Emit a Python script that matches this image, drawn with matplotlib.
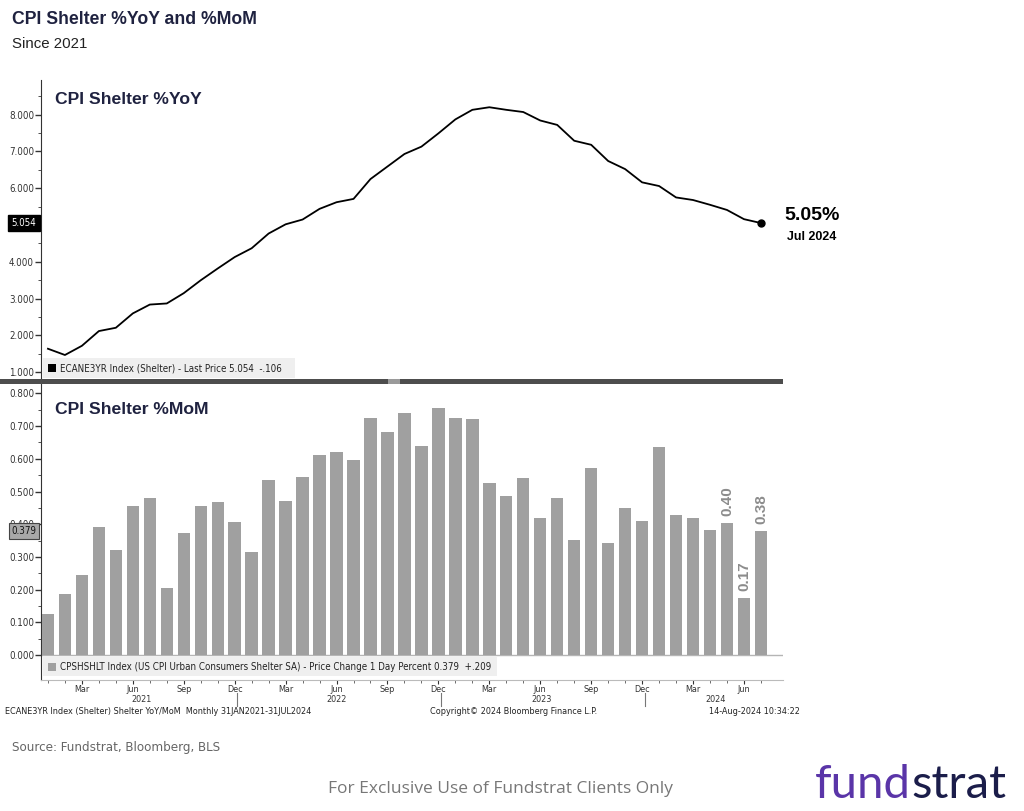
import matplotlib
matplotlib.use('Agg')
import matplotlib.pyplot as plt
import matplotlib.transforms as mtransforms
from matplotlib import font_manager as fm
from matplotlib.patches import Rectangle
import numpy as np

# ---------------- data ----------------
years = ['2021', '2022', '2023', '2024']
month_abbr = ['Jan', 'Feb', 'Mar', 'Apr', 'May', 'Jun',
              'Jul', 'Aug', 'Sep', 'Oct', 'Nov', 'Dec']
n_months_last_year = 7

# CPI Shelter %YoY (Jan 2021 - Jul 2024)
yoy = [1.64, 1.47, 1.72, 2.12, 2.21, 2.60, 2.84, 2.87, 3.15, 3.50, 3.82, 4.13,
       4.37, 4.77, 5.02, 5.15, 5.44, 5.62, 5.71, 6.25, 6.59, 6.93, 7.13, 7.49,
       7.87, 8.13, 8.20, 8.13, 8.07, 7.84, 7.72, 7.29, 7.18, 6.74, 6.52, 6.16,
       6.06, 5.75, 5.68, 5.55, 5.41, 5.16, 5.054]

# CPI Shelter %MoM (Jan 2021 - Jul 2024)
mom = [0.124, 0.186, 0.245, 0.391, 0.321, 0.457, 0.481, 0.206, 0.373, 0.457, 0.469, 0.407,
       0.315, 0.535, 0.472, 0.544, 0.612, 0.621, 0.596, 0.725, 0.682, 0.740, 0.638, 0.756,
       0.726, 0.722, 0.527, 0.485, 0.542, 0.418, 0.481, 0.352, 0.573, 0.341, 0.449, 0.409,
       0.636, 0.428, 0.420, 0.381, 0.403, 0.173, 0.379]

labeled_bars = [40, 41, 42]   # May, Jun, Jul 2024

yoy_yticks = [1, 2, 3, 4, 5, 6, 7, 8]
mom_yticks = [0.0, 0.1, 0.2, 0.3, 0.4, 0.5, 0.6, 0.7, 0.8]

# ---------------- fonts ----------------
ttf = fm.fontManager.ttflist
names = {f.name for f in ttf}
if 'Liberation Sans Narrow' in names:
    NARROW, STRETCH = 'Liberation Sans Narrow', 'normal'
elif any(f.name == 'DejaVu Sans' and str(f.stretch) in ('condensed', 'semi-condensed', '75', '87')
         for f in ttf):
    NARROW, STRETCH = 'DejaVu Sans', 'condensed'
else:
    NARROW, STRETCH = 'Liberation Sans', 'normal'
BBG = [NARROW, 'DejaVu Sans']
SANS = ['Liberation Sans', 'DejaVu Sans']
plt.rcParams['font.family'] = SANS

W, H = 1024, 811
fig = plt.figure(figsize=(W / 100, H / 100), dpi=100)
fig.patch.set_facecolor('white')


def rect(x0, y0, x1, y1):
    return [x0 / W, 1 - y1 / H, (x1 - x0) / W, (y1 - y0) / H]


def fx(x):
    return x / W


def fy(y):
    return 1 - y / H


NAVY = '#1f2240'
BAR = '#a0a0a0'
TXT = '#333333'

# month positions
months = []
for yi, yr in enumerate(years):
    count = 12 if yi < len(years) - 1 else n_months_last_year
    for m in range(count):
        months.append((yr, month_abbr[m]))
x = np.arange(len(months))

# ---------------- top panel ----------------
ax1 = fig.add_axes(rect(41, 80, 783, 379))
ax1.plot(x, yoy, color='black', lw=1.3, zorder=3)
ax1.plot(x[-1], yoy[-1], 'o', color='black', ms=5, zorder=4)
ax1.set_xlim(-0.41, 43.3)
ax1.set_ylim(0.818, 8.94)
ax1.set_yticks(yoy_yticks)
# the 5.000 label sits under the last-price tag, as in the original
ax1.set_yticklabels(['' if v == 5 else f'{v:.3f}' for v in yoy_yticks])
ax1.set_yticks(np.arange(1.5, 8.6, 1.0), minor=True)
for s in ['top', 'right', 'bottom']:
    ax1.spines[s].set_visible(False)
ax1.spines['left'].set_color(TXT)
ax1.tick_params(axis='y', which='major', direction='out', length=4, width=1,
                labelsize=7, colors=TXT, pad=1)
ax1.tick_params(axis='y', which='minor', direction='out', length=2, colors=TXT)
ax1.tick_params(axis='x', which='both', bottom=False, labelbottom=False)
for lab in ax1.get_yticklabels():
    lab.set_family(BBG)
    lab.set_stretch(STRETCH)

blend1 = mtransforms.blended_transform_factory(ax1.transAxes, ax1.transData)
ax1.text(-0.006, yoy[-1], f'{yoy[-1]:.3f}', transform=blend1, ha='right', va='center',
         fontsize=7, color='white', family=BBG, stretch=STRETCH,
         bbox=dict(boxstyle='square,pad=0.35', fc='black', ec='black'), zorder=10, clip_on=False)

fig.text(fx(55), fy(100), 'CPI Shelter %YoY', fontsize=12.6, fontweight='bold', color=NAVY,
         va='center', ha='left')

# legend box top
fig.patches.append(Rectangle((fx(43), fy(378)), (295 - 43) / W, 20 / H,
                             transform=fig.transFigure, fc='#efefef', ec='none', zorder=5))
fig.patches.append(Rectangle((fx(48), fy(372)), 8 / W, 8 / H,
                             transform=fig.transFigure, fc='black', ec='none', zorder=6))
fig.text(fx(60), fy(368), 'ECANE3YR Index (Shelter) - Last Price 5.054  -.106', fontsize=7,
         color='#222222', family=BBG, stretch=STRETCH, va='center', ha='left', zorder=7)

fig.text(fx(812), fy(215), f'{yoy[-1]:.2f}%', fontsize=14, fontweight='bold', color='black',
         ha='center', va='center')
fig.text(fx(812), fy(237), 'Jul 2024', fontsize=9, fontweight='bold', color='black',
         ha='center', va='center')

# ---------------- bottom panel ----------------
ax2 = fig.add_axes(rect(41, 381, 783, 680))
ax2.bar(x, mom, width=0.73, color=BAR, zorder=3)
ax2.axhline(0, color='#b5b5b5', lw=1, zorder=2)
ax2.set_xlim(-0.41, 43.3)
ax2.set_ylim(-0.0765, 0.838)
ax2.set_yticks(mom_yticks)
ax2.set_yticklabels([f'{v:.3f}' for v in mom_yticks])
ax2.set_yticks(np.arange(0.05, 0.8, 0.1), minor=True)
for s in ['top', 'right']:
    ax2.spines[s].set_visible(False)
ax2.spines['left'].set_color(TXT)
ax2.spines['bottom'].set_color('#bbbbbb')
ax2.tick_params(axis='y', which='major', direction='out', length=4, width=1,
                labelsize=7, colors=TXT, pad=1)
ax2.tick_params(axis='y', which='minor', direction='out', length=2, colors=TXT)
for lab in ax2.get_yticklabels():
    lab.set_family(BBG)
    lab.set_stretch(STRETCH)

tick_pos = [i for i, (yr, m) in enumerate(months) if m in ('Mar', 'Jun', 'Sep', 'Dec')]
ax2.set_xticks(tick_pos)
ax2.set_xticklabels([months[i][1] for i in tick_pos])
ax2.set_xticks(x, minor=True)
ax2.tick_params(axis='x', which='major', direction='out', length=3, labelsize=6.5,
                colors=TXT, pad=0.5)
ax2.tick_params(axis='x', which='minor', direction='out', length=2, colors='#555555')
for lab in ax2.get_xticklabels():
    lab.set_family(BBG)
    lab.set_stretch(STRETCH)

blendx = mtransforms.blended_transform_factory(ax2.transData, fig.transFigure)
year_centers = [5.5, 17.0, 29.1, 39.3]
for yr, xc in zip(years, year_centers):
    ax2.text(xc, fy(699), yr, transform=blendx, fontsize=6.5, color=TXT, ha='center',
             va='center', family=BBG, stretch=STRETCH, clip_on=False)
for i, (yr, m) in enumerate(months):
    if m == 'Dec':
        ax2.plot([i + 0.15, i + 0.15], [fy(693), fy(706)], transform=blendx, color='#777777',
                 lw=0.8, clip_on=False)

blend2 = mtransforms.blended_transform_factory(ax2.transAxes, ax2.transData)
ax2.text(-0.006, mom[-1], f'{mom[-1]:.3f}', transform=blend2, ha='right', va='center',
         fontsize=7, color='#111111', family=BBG, stretch=STRETCH,
         bbox=dict(boxstyle='square,pad=0.3', fc='#a8a8a8', ec='#444444', lw=0.8),
         zorder=10, clip_on=False)

for i in labeled_bars:
    ax2.annotate(f'{mom[i]:.2f}', xy=(x[i], mom[i]), xytext=(0, 5), textcoords='offset points',
                 rotation=90, ha='center', va='bottom', fontsize=11, fontweight='bold',
                 color='#8c8c8c', zorder=6)

fig.text(fx(55), fy(409), 'CPI Shelter %MoM', fontsize=12.6, fontweight='bold', color=NAVY,
         va='center', ha='left')

# legend box bottom
fig.patches.append(Rectangle((fx(43), fy(676)), (497 - 43) / W, 19 / H,
                             transform=fig.transFigure, fc='#efefef', ec='none', zorder=5))
fig.patches.append(Rectangle((fx(48), fy(671)), 8 / W, 8 / H,
                             transform=fig.transFigure, fc=BAR, ec='none', zorder=6))
fig.text(fx(60), fy(667),
         'CPSHSHLT Index (US CPI Urban Consumers Shelter SA) - Price Change 1 Day Percent 0.379  +.209',
         fontsize=7, color='#222222', family=BBG, stretch=STRETCH, va='center', ha='left',
         zorder=7)

# separator between panels
fig.patches.append(Rectangle((0, fy(384)), 783 / W, 5 / H, transform=fig.transFigure,
                             fc='#4d4d4d', ec='none', zorder=8))
fig.patches.append(Rectangle((fx(388), fy(384)), 12 / W, 5 / H, transform=fig.transFigure,
                             fc='#9a9a9a', ec='none', zorder=9))

# ---------------- titles & footers ----------------
fig.text(fx(12), fy(20), 'CPI Shelter %YoY and %MoM', fontsize=12.7, fontweight='bold',
         color=NAVY, va='center', ha='left')
fig.text(fx(12), fy(44), 'Since 2021', fontsize=10.8, color='#222222', va='center', ha='left')

fig.text(fx(5), fy(711), 'ECANE3YR Index (Shelter) Shelter YoY/MoM  Monthly 31JAN2021-31JUL2024',
         fontsize=6.5, color='#222222', family=BBG, stretch=STRETCH, va='center', ha='left')
fig.text(fx(430), fy(711), 'Copyright\u00a9 2024 Bloomberg Finance L.P.', fontsize=6.5,
         color='#222222', family=BBG, stretch=STRETCH, va='center', ha='left')
fig.text(fx(800), fy(711), '14-Aug-2024 10:34:22', fontsize=6.5, color='#222222',
         family=BBG, stretch=STRETCH, va='center', ha='right')

fig.text(fx(12), fy(747), 'Source: Fundstrat, Bloomberg, BLS', fontsize=9.5, color='#666666',
         family=BBG, stretch=STRETCH, va='center', ha='left')
fig.text(fx(500), fy(789), 'For Exclusive Use of Fundstrat Clients Only', fontsize=12.5,
         color='#777777', family=['Open Sans', 'DejaVu Sans'], va='center', ha='center')

t1 = fig.text(fx(815), fy(798), 'fund', fontsize=34, color='#5a35a8',
              family=['Lato', 'DejaVu Sans'], va='baseline', ha='left')
fig.canvas.draw()
bb = t1.get_window_extent()
fig.text(bb.x1 / W, fy(798), 'strat', fontsize=34, color='#1b1d4a',
         family=['Lato', 'DejaVu Sans'], va='baseline', ha='left')

fig.savefig('out.png', dpi=100, facecolor='white')
